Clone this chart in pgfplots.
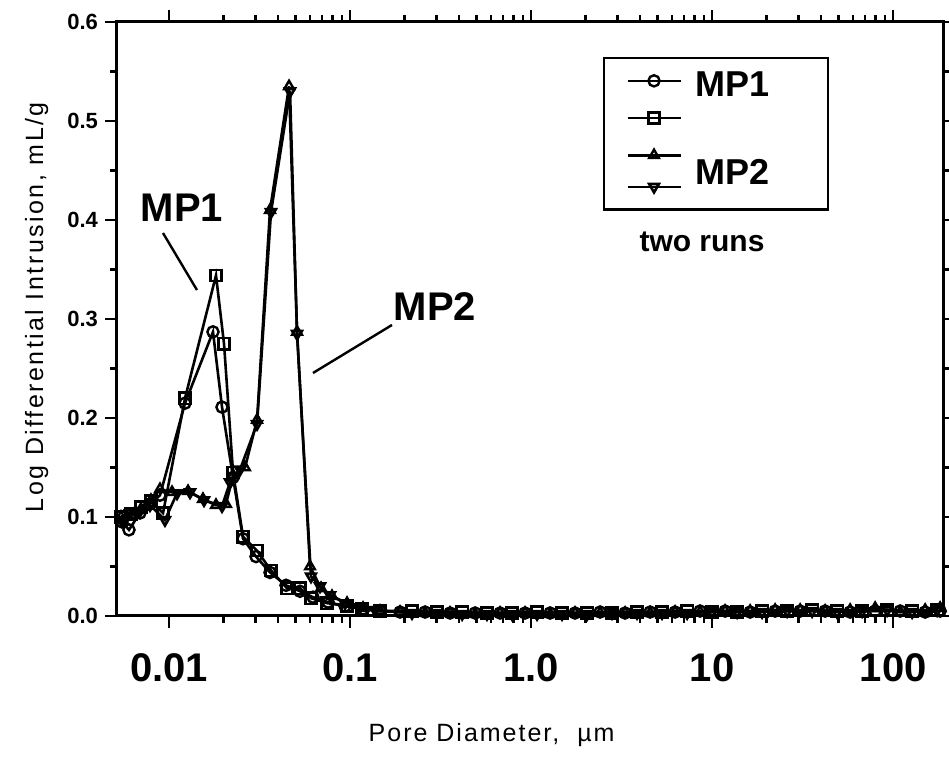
\documentclass[border=0pt]{standalone}
\usepackage{pgfplots}
\pgfplotsset{compat=1.18}
\usepackage{pgfplotstable}
\usepackage{fontspec}
\setmainfont{Liberation Sans}
\newfontfamily\spacedfont[LetterSpace=10]{Liberation Sans}
\newfontfamily\xlabfont[LetterSpace=8]{Liberation Sans}

% MP1 run 1 (circles)
\pgfplotstableread{
x y
0.0055 0.095
0.00601 0.087
0.00691 0.104
0.00785 0.113
0.00892 0.122
0.01226 0.215
0.0175 0.287
0.01963 0.211
0.02258 0.140
0.02564 0.078
0.03025 0.060
0.03614 0.044
0.0443 0.031
0.05294 0.025
0.06245 0.019
0.07559 0.014
0.09384 0.010
0.118 0.007
0.1465 0.005
0.1889 0.004
0.2597 0.004
0.3569 0.003
0.4906 0.003
0.6743 0.003
0.9267 0.003
1.274 0.003
1.750 0.003
2.406 0.004
3.306 0.003
4.545 0.004
6.246 0.004
8.587 0.005
11.80 0.005
16.22 0.004
22.29 0.005
30.64 0.005
42.11 0.005
57.87 0.004
79.55 0.005
109.4 0.005
150.3 0.004
181.8 0.005
}\mpAa

% MP1 run 2 (squares)
\pgfplotstableread{
x y
0.00543 0.100
0.00617 0.103
0.0070 0.110
0.00795 0.116
0.00927 0.104
0.01226 0.220
0.01818 0.344
0.02013 0.275
0.02258 0.145
0.02564 0.080
0.03064 0.066
0.0366 0.046
0.04487 0.028
0.05294 0.028
0.06087 0.018
0.07463 0.013
0.09625 0.010
0.1165 0.007
0.1465 0.005
0.220 0.005
0.302 0.004
0.416 0.004
0.571 0.003
0.785 0.003
1.079 0.004
1.483 0.003
2.04 0.003
2.80 0.003
3.85 0.004
5.29 0.004
7.28 0.005
10.0 0.004
13.75 0.004
18.89 0.005
25.97 0.005
35.69 0.006
49.06 0.005
67.43 0.005
92.67 0.006
127.4 0.005
175.0 0.006
}\mpAb

% MP2 run 1 (triangles up)
\pgfplotstableread{
x y
0.00543 0.100
0.00617 0.102
0.0070 0.108
0.00795 0.117
0.00892 0.128
0.01039 0.125
0.01274 0.126
0.01541 0.118
0.01818 0.112
0.02065 0.113
0.02258 0.142
0.0263 0.150
0.03064 0.198
0.03614 0.410
0.04603 0.535
0.05096 0.287
0.06012 0.050
0.06916 0.028
0.07953 0.020
0.09625 0.013
0.118 0.008
0.1465 0.005
0.1889 0.004
0.2597 0.003
0.3569 0.003
0.4906 0.002
0.6743 0.003
0.9267 0.003
1.274 0.002
1.750 0.003
2.406 0.003
3.306 0.003
4.545 0.003
6.246 0.004
8.587 0.004
11.80 0.005
16.22 0.005
22.29 0.006
30.64 0.006
42.11 0.005
57.87 0.006
79.55 0.008
109.4 0.004
150.3 0.006
181.8 0.008
}\mpBa

% MP2 run 2 (triangles down)
\pgfplotstableread{
x y
0.0055 0.096
0.00609 0.104
0.00691 0.106
0.00785 0.112
0.0095 0.097
0.01107 0.124
0.01306 0.125
0.01561 0.117
0.01963 0.111
0.02173 0.135
0.02468 0.148
0.03064 0.194
0.0366 0.408
0.04662 0.530
0.05096 0.285
0.06087 0.040
0.06829 0.030
0.07754 0.021
0.09384 0.013
0.1136 0.009
0.1375 0.006
0.220 0.003
0.302 0.003
0.416 0.002
0.571 0.002
0.785 0.002
1.079 0.002
1.483 0.002
2.04 0.002
2.80 0.003
3.85 0.003
5.29 0.003
7.28 0.003
10.0 0.004
13.75 0.004
18.89 0.004
25.97 0.005
35.69 0.005
49.06 0.004
67.43 0.005
92.67 0.006
127.4 0.004
175.0 0.006
}\mpBb

\newcommand\legtxt[2][-8.4pt]{\makebox[55pt][l]{\raisebox{#1}{\smash{#2}}}}

\begin{document}
\begin{tikzpicture}
\begin{axis}[
  at={(0,0)}, anchor=south west,
  scale only axis, width=413.5pt, height=297pt,
  xmode=log, xmin=0.00516, xmax=191,
  ymin=0, ymax=0.6,
  clip=false,
  axis line style={line width=1.5pt},
  every tick/.style={black, line width=1.2pt},
  tick align=outside,
  major tick length=6pt, minor tick length=3.5pt,
  xtick={0.01,0.1,1,10,100},
  xticklabels={0.01,0.1,1.0,10,100},
  xticklabel style={font=\bfseries\fontsize{20}{20}\selectfont, anchor=center, yshift=-20pt},
  ytick={0,0.1,0.2,0.3,0.4,0.5,0.6},
  minor y tick num=1,
  /pgf/number format/assume math mode=true,
  yticklabel style={/pgf/number format/.cd, fixed, fixed zerofill, precision=1, /tikz/.cd,
    font=\bfseries\fontsize{11}{11}\selectfont},
  xlabel={Pore Diameter,\ \ µm},
  xlabel style={font=\xlabfont\fontsize{12.5}{12.5}\selectfont, at={(axis description cs:0.453,-0.200)}, anchor=center},
  ylabel={Log Differential Intrusion, mL/g},
  ylabel style={font=\spacedfont\fontsize{12.5}{12.5}\selectfont, at={(axis description cs:-0.097,0.52)}, anchor=center},
  every axis plot/.append style={black, line width=1.3pt, mark size=2.8pt, mark options={solid, fill=white, line width=1.2pt}},
  legend image code/.code={\draw[mark repeat=2,mark phase=2,#1] plot coordinates {(0pt,0pt) (13.25pt,0pt) (26.5pt,0pt)};},
  legend style={at={(rel axis cs:0.5877,0.941)}, anchor=north west, draw=black, line width=1.2pt,
    inner xsep=11pt, inner ysep=8.5pt, row sep=13pt, column sep=7pt,
    font=\bfseries\fontsize{18}{18}\selectfont, nodes={inner sep=0pt}},
  legend cell align=left,
]
\addplot[mark=o] table[x=x,y=y] {\mpAa};
\addlegendentry{\legtxt{MP1}}
\addplot[mark=square] table[x=x,y=y] {\mpAb};
\addlegendentry{\legtxt{}}
\addplot[mark=triangle] table[x=x,y=y] {\mpBa};
\addlegendentry{\legtxt{}}
\addplot[mark=triangle, mark options={rotate=180}] table[x=x,y=y] {\mpBb};
\addlegendentry{\legtxt[0.6pt]{MP2}}

\node[font=\bfseries\fontsize{15}{15}\selectfont] at (rel axis cs:0.7074,0.6296) {two runs};
\node[font=\bfseries\fontsize{20}{20}\selectfont] at (rel axis cs:0.0786,0.6869) {MP1};
\draw[line width=1.2pt] (rel axis cs:0.0556,0.6448) -- (rel axis cs:0.0967,0.5488);
\node[font=\bfseries\fontsize{20}{20}\selectfont] at (rel axis cs:0.3845,0.5202) {MP2};
\draw[line width=1.2pt] (rel axis cs:0.2370,0.4091) -- (rel axis cs:0.3325,0.4899);
\end{axis}
\pgfresetboundingbox
\path[use as bounding box] (-58.5pt,-73.5pt) rectangle (416pt,308pt);
\end{tikzpicture}
\end{document}
